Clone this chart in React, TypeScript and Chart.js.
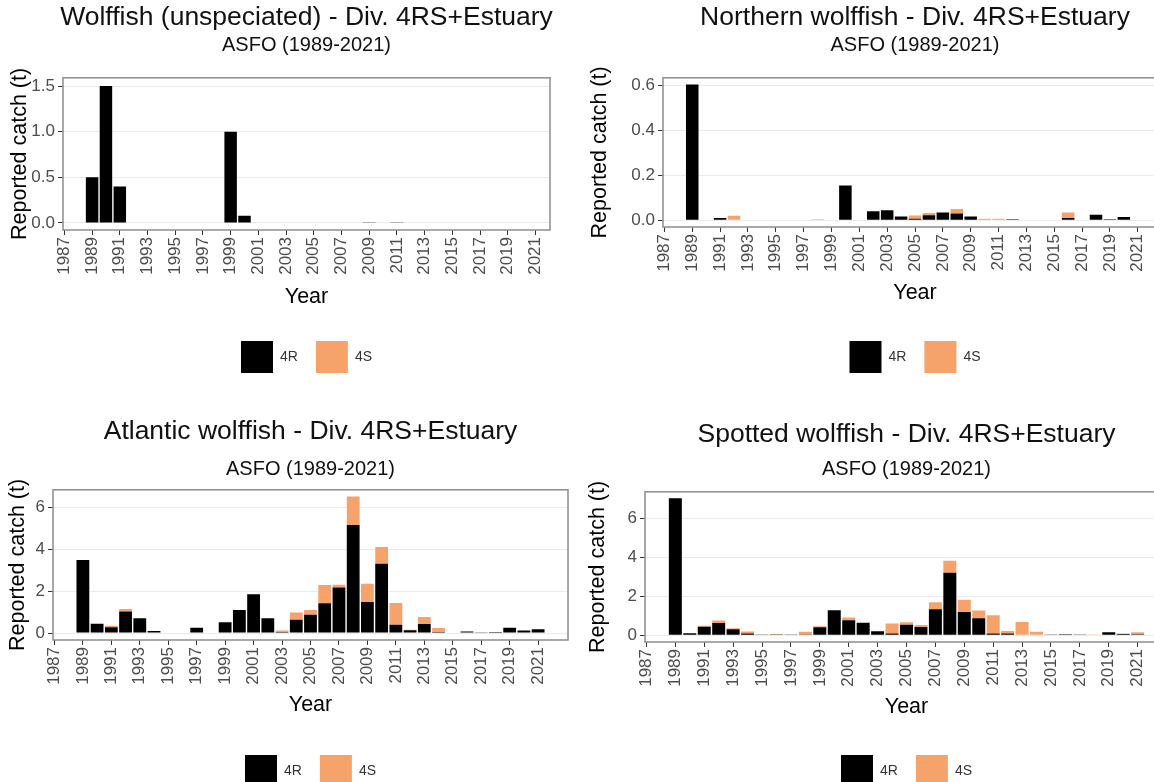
import React, { useEffect, useRef } from 'react';
import { Chart, registerables } from 'chart.js';

Chart.register(...registerables);
Chart.defaults.font.family = '"Liberation Sans", Arial, sans-serif';

// ---------- data ----------
const years = [
  1989, 1990, 1991, 1992, 1993, 1994, 1995, 1996, 1997, 1998,
  1999, 2000, 2001, 2002, 2003, 2004, 2005, 2006, 2007, 2008,
  2009, 2010, 2011, 2012, 2013, 2014, 2015, 2016, 2017, 2018,
  2019, 2020, 2021,
];
const xTickYears = [1987, 1989, 1991, 1993, 1995, 1997, 1999, 2001, 2003, 2005, 2007, 2009, 2011, 2013, 2015, 2017, 2019, 2021];
const seriesNames = ['4R', '4S'];
const subtitleText = 'ASFO (1989-2021)';
const xAxisTitle = 'Year';
const yAxisTitle = 'Reported catch (t)';

const unspecTitle = 'Wolffish (unspeciated) - Div. 4RS+Estuary';
const unspec4R = [
  0.5, 1.5, 0.4, 0, 0, 0, 0, 0, 0, 0,
  1.0, 0.08, 0, 0.006, 0, 0, 0, 0, 0, 0,
  0.003, 0, 0.003, 0, 0, 0, 0, 0, 0, 0,
  0.006, 0, 0,
];
const unspec4S = [
  0, 0, 0, 0, 0, 0, 0, 0, 0, 0,
  0, 0, 0, 0, 0, 0, 0, 0, 0, 0,
  0, 0, 0, 0, 0, 0, 0, 0, 0, 0,
  0, 0, 0,
];
const unspecYTicks = [0, 0.5, 1.0, 1.5];
const unspecYRange = [-0.077, 1.59];

const northernTitle = 'Northern wolffish - Div. 4RS+Estuary';
const northern4R = [
  0.605, 0.002, 0.01, 0, 0, 0, 0, 0, 0, 0,
  0.002, 0.155, 0.002, 0.04, 0.045, 0.017, 0.007, 0.022, 0.035, 0.03,
  0.017, 0.002, 0.002, 0.005, 0.002, 0, 0, 0.01, 0, 0.025,
  0.004, 0.015, 0.002,
];
const northern4S = [
  0, 0, 0, 0.02, 0, 0, 0, 0, 0, 0.005,
  0, 0, 0, 0, 0, 0, 0.014, 0.01, 0, 0.02,
  0, 0.005, 0.005, 0, 0, 0, 0, 0.025, 0, 0,
  0, 0, 0,
];
const northernYTicks = [0, 0.2, 0.4, 0.6];
const northernYRange = [-0.03, 0.635];

const atlanticTitle = 'Atlantic wolffish - Div. 4RS+Estuary';
const atlantic4R = [
  3.48, 0.44, 0.28, 1.03, 0.71, 0.1, 0.03, 0.03, 0.25, 0.03,
  0.52, 1.1, 1.85, 0.7, 0.05, 0.63, 0.87, 1.42, 2.17, 5.15,
  1.48, 3.3, 0.4, 0.13, 0.43, 0.05, 0, 0.08, 0.04, 0.05,
  0.25, 0.12, 0.18,
];
const atlantic4S = [
  0, 0, 0.07, 0.12, 0, 0, 0, 0, 0, 0,
  0, 0, 0, 0, 0.07, 0.35, 0.23, 0.87, 0.13, 1.35,
  0.87, 0.8, 1.03, 0.03, 0.33, 0.19, 0, 0, 0, 0,
  0, 0, 0,
];
const atlanticYTicks = [0, 2, 4, 6];
const atlanticYRange = [-0.33, 6.82];

const spottedTitle = 'Spotted wolffish - Div. 4RS+Estuary';
const spotted4R = [
  7.02, 0.1, 0.43, 0.63, 0.3, 0.09, 0.04, 0.01, 0.03, 0.03,
  0.4, 1.28, 0.76, 0.64, 0.2, 0.08, 0.54, 0.42, 1.33, 3.2,
  1.19, 0.87, 0.08, 0.08, 0, 0, 0.01, 0.05, 0.04, 0.02,
  0.15, 0.06, 0.05,
];
const spotted4S = [
  0, 0, 0.05, 0.12, 0.05, 0.1, 0, 0.03, 0, 0.14,
  0.06, 0, 0.14, 0, 0, 0.52, 0.12, 0.1, 0.36, 0.62,
  0.62, 0.4, 0.94, 0.14, 0.68, 0.17, 0, 0, 0, 0.02,
  0, 0.03, 0.1,
];
const spottedYTicks = [0, 2, 4, 6];
const spottedYRange = [-0.35, 7.35];

// ---------- styling ----------
const COLOR_4R = '#000000';
const COLOR_4S = '#F6A26B';
const TICK_TEXT = '#4d4d4d';
const X_MIN = 1986.9;

const borderPlugin = {
  id: 'panelBorder',
  afterDatasetsDraw(chart: any) {
    const { ctx, chartArea: a } = chart;
    ctx.save();
    ctx.strokeStyle = '#8c8c8c';
    ctx.lineWidth = 1.5;
    ctx.strokeRect(a.left, a.top, a.right - a.left, a.bottom - a.top);
    ctx.restore();
  },
};

type PanelProps = {
  title: string;
  r: number[];
  s: number[];
  yTicks: number[];
  yRange: number[];
  decimals: number;
  xMax: number;
  left: number;
  top: number;
  yW: number;
  plotW: number;
  height: number;
  titlePad: [number, number];
  subPad: [number, number];
  xH: number;
  yearPad: number;
  yTitlePad: number;
};

function Panel(p: PanelProps) {
  const ref = useRef<HTMLCanvasElement>(null);
  const width = p.yW * 2 + p.plotW;
  useEffect(() => {
    const chart = new Chart(ref.current as HTMLCanvasElement, {
      type: 'bar',
      data: {
        datasets: [
          {
            label: seriesNames[0],
            data: years.map((y, i) => ({ x: y, y: p.r[i] })),
            backgroundColor: COLOR_4R,
            borderWidth: 0,
          },
          {
            label: seriesNames[1],
            data: years.map((y, i) => ({ x: y, y: p.s[i] })),
            backgroundColor: COLOR_4S,
            borderWidth: 0,
          },
        ],
      },
      options: {
        responsive: false,
        animation: false,
        datasets: { bar: { barPercentage: 0.9, categoryPercentage: 1 } },
        layout: { padding: 0 },
        scales: {
          x: {
            type: 'linear',
            stacked: true,
            offset: false,
            min: X_MIN,
            max: p.xMax,
            afterBuildTicks: (s: any) => {
              s.ticks = xTickYears.map((v) => ({ value: v }));
            },
            afterFit: (s: any) => {
              s.height = p.xH;
            },
            ticks: {
              autoSkip: false,
              minRotation: 90,
              maxRotation: 90,
              padding: 2,
              color: TICK_TEXT,
              font: { size: 17 },
              callback: (v: any) => String(v),
            },
            grid: {
              display: true,
              drawOnChartArea: false,
              drawTicks: true,
              tickLength: 5,
              tickColor: '#333333',
              offset: false,
            },
            border: { display: false },
            title: {
              display: true,
              text: xAxisTitle,
              color: '#000',
              font: { size: 21.5 },
              padding: { top: 0, bottom: p.yearPad },
            },
          },
          y: {
            stacked: true,
            min: p.yRange[0],
            max: p.yRange[1],
            afterBuildTicks: (s: any) => {
              s.ticks = p.yTicks.map((v) => ({ value: v }));
            },
            afterFit: (s: any) => {
              s.width = p.yW;
            },
            ticks: {
              color: TICK_TEXT,
              font: { size: 17 },
              padding: 3,
              callback: (v: any) => Number(v).toFixed(p.decimals),
            },
            grid: {
              color: '#ebebeb',
              lineWidth: 1,
              drawTicks: true,
              tickLength: 5,
              tickColor: '#333333',
            },
            border: { display: false },
            title: {
              display: true,
              text: yAxisTitle,
              color: '#000',
              font: { size: 21.5 },
              padding: { top: p.yTitlePad, bottom: 0 },
            },
          },
          yRight: {
            position: 'right',
            display: true,
            afterFit: (s: any) => {
              s.width = p.yW;
            },
            ticks: { display: false },
            grid: { display: false },
            border: { display: false },
          },
        },
        plugins: {
          title: {
            display: true,
            text: p.title,
            color: '#111',
            font: { size: 26.5, weight: 'normal' },
            padding: { top: p.titlePad[0], bottom: p.titlePad[1] },
          },
          subtitle: {
            display: true,
            text: subtitleText,
            color: '#111',
            font: { size: 20, weight: 'normal' },
            padding: { top: p.subPad[0], bottom: p.subPad[1] },
          },
          legend: {
            position: 'bottom',
            labels: {
              boxWidth: 32,
              boxHeight: 32,
              padding: 18,
              color: '#333',
              font: { size: 14 },
            },
          },
          tooltip: { enabled: false },
        },
      } as any,
      plugins: [borderPlugin],
    });
    return () => chart.destroy();
  }, []);
  return (
    <canvas
      ref={ref}
      width={width}
      height={p.height}
      style={{ position: 'absolute', left: p.left, top: p.top, width, height: p.height }}
    />
  );
}

export default function App() {
  return (
    <div
      style={{
        position: 'fixed',
        left: 0,
        top: 0,
        width: 1154,
        height: 782,
        overflow: 'hidden',
        background: '#ffffff',
      }}
    >
      <Panel
        title={unspecTitle}
        r={unspec4R}
        s={unspec4S}
        yTicks={unspecYTicks}
        yRange={unspecYRange}
        decimals={1}
        xMax={2022.05}
        left={0}
        top={0}
        yW={63}
        plotW={487}
        height={383}
        titlePad={[2, 0]}
        subPad={[0, 20]}
        xH={93}
        yearPad={13}
        yTitlePad={7}
      />
      <Panel
        title={northernTitle}
        r={northern4R}
        s={northern4S}
        yTicks={northernYTicks}
        yRange={northernYRange}
        decimals={1}
        xMax={2023.1}
        left={585}
        top={0}
        yW={78}
        plotW={504}
        height={383}
        titlePad={[2, 0]}
        subPad={[0, 20]}
        xH={96}
        yearPad={17}
        yTitlePad={2}
      />
      <Panel
        title={atlanticTitle}
        r={atlantic4R}
        s={atlantic4S}
        yTicks={atlanticYTicks}
        yRange={atlanticYRange}
        decimals={0}
        xMax={2023.1}
        left={0}
        top={400}
        yW={53}
        plotW={515}
        height={397}
        titlePad={[16, 0]}
        subPad={[10, 8]}
        xH={97}
        yearPad={19}
        yTitlePad={5}
      />
      <Panel
        title={spottedTitle}
        r={spotted4R}
        s={spotted4S}
        yTicks={spottedYTicks}
        yRange={spottedYRange}
        decimals={0}
        xMax={2023.1}
        left={585}
        top={400}
        yW={60}
        plotW={523}
        height={397}
        titlePad={[19, 0]}
        subPad={[7, 10]}
        xH={95}
        yearPad={17}
        yTitlePad={0}
      />
    </div>
  );
}
